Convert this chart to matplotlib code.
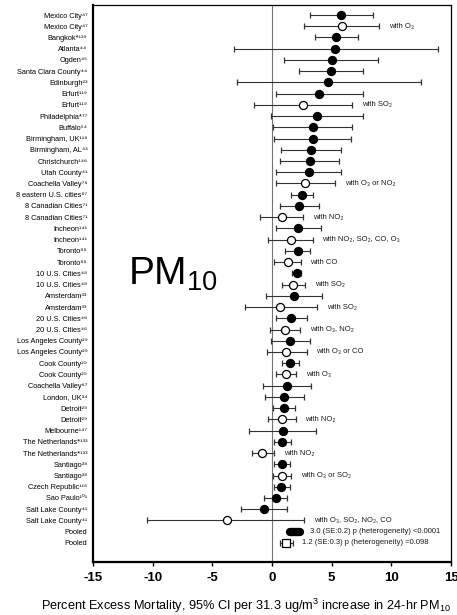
import matplotlib
matplotlib.use('Agg')
import matplotlib.pyplot as plt

matplotlib.rc('font', family=['Liberation Sans', 'DejaVu Sans'])
matplotlib.rc('mathtext', fontset='custom', rm='Liberation Sans',
              it='Liberation Sans:italic', bf='Liberation Sans:bold')

studies = [
    'Mexico City', 'Mexico City', 'Bangkok', 'Atlanta', 'Ogden',
    'Santa Clara County', 'Edinburgh', 'Erfurt', 'Erfurt', 'Philadelphia',
    'Buffalo', 'Birmingham, UK', 'Birmingham, AL', 'Christchurch', 'Utah County',
    'Coachella Valley', '8 eastern U.S. cities', '8 Canadian Cities',
    '8 Canadian Cities', 'Incheon', 'Incheon', 'Toronto', 'Toronto',
    '10 U.S. Cities', '10 U.S. Cities', 'Amsterdam', 'Amsterdam',
    '20 U.S. Cities', '20 U.S. Cities', 'Los Angeles County',
    'Los Angeles County', 'Cook County', 'Cook County', 'Coachella Valley',
    'London, UK', 'Detroit', 'Detroit', 'Melbourne', 'The Netherlands',
    'The Netherlands', 'Santiago', 'Santiago', 'Czech Republic', 'Sao Paulo',
    'Salt Lake County', 'Salt Lake County', 'Pooled', 'Pooled',
]
refs = ['47', '47', '*139', '44', '45', '44', '23', '119', '119', '*77',
        '54', '118', '43', '146', '41', '76', '87', '71', '71', '141', '141',
        '86', '86', '48', '48', '33', '33', '46', '46', '29', '29', '29', '29',
        '67', '34', '29', '29', '147', '*133', '*133', '38', '38', '116', '101',
        '41', '41', '', '']
estimates = [5.8, 5.9, 5.4, 5.3, 5.0, 4.9, 4.7, 3.9, 2.6, 3.8, 3.4, 3.4,
             3.3, 3.2, 3.1, 2.8, 2.5, 2.3, 0.8, 2.2, 1.55, 2.15, 1.3, 2.1,
             1.75, 1.85, 0.7, 1.6, 1.05, 1.5, 1.2, 1.5, 1.2, 1.25, 1.0, 1.0,
             0.85, 0.9, 0.85, -0.8, 0.8, 0.8, 0.75, 0.3, -0.7, -3.8, 1.95, 1.2]
lower = [3.2, 2.7, 3.6, -3.2, 1.0, 2.3, -2.9, 0.3, -1.5, -0.05, 0.05, 0.2,
         0.75, 0.7, 0.3, 0.35, 1.6, 0.7, -1.0, 0.35, -0.3, 1.1, 0.2, 1.7,
         0.8, -0.5, -2.3, 0.3, -0.15, -0.05, -0.45, 0.85, 0.3, -0.75, -0.6, 0.05,
         -0.3, -1.95, 0.15, -1.7, 0.15, 0.05, 0.15, -0.7, -2.6, -10.5, 1.5, 0.7]
upper = [8.5, 9.0, 7.2, 13.9, 8.9, 7.6, 12.5, 7.6, 6.7, 7.6, 6.7, 6.6,
         5.8, 5.6, 5.75, 5.3, 3.4, 3.9, 2.6, 4.1, 3.4, 3.2, 2.4, 2.45,
         2.8, 4.2, 3.8, 2.95, 2.35, 3.2, 2.9, 2.3, 2.05, 3.3, 2.7, 1.95,
         2.0, 3.7, 1.6, 0.2, 1.5, 1.6, 1.5, 1.25, 1.25, 2.7, 2.35, 1.75]
# open markers = estimates adjusted for co-pollutants
notes = {
    1: 'with O₃',
    8: 'with SO₂',
    15: 'with O₃ or NO₂',
    18: 'with NO₂',
    20: 'with NO₂, SO₂, CO, O₃',
    22: 'with CO',
    24: 'with SO₂',
    26: 'with SO₂',
    28: 'with O₃, NO₂',
    30: 'with O₃ or CO',
    32: 'with O₃',
    36: 'with NO₂',
    39: 'with NO₂',
    41: 'with O₃ or SO₂',
    45: 'with O₃, SO₂, NO₂, CO',
}
pooled_notes = {
    46: '3.0 (SE:0.2) p (heterogeneity) <0.0001',
    47: '1.2 (SE:0.3) p (heterogeneity) =0.098',
}
x_ticks = [-15, -10, -5, 0, 5, 10, 15]

SUP = str.maketrans('0123456789*', '⁰¹²³⁴⁵⁶⁷⁸⁹*')


def draw_forest(ax):
    n = len(studies)
    ax.axvline(0, color='0.45', lw=0.8, zorder=0)
    for i in range(n):
        est, lo, hi = estimates[i], lower[i], upper[i]
        is_open = i in notes or i == 47
        if i == 46:
            ax.plot([lo, hi], [i, i], color='black', lw=6,
                    solid_capstyle='round')
        else:
            ax.errorbar(est, i, xerr=[[est - lo], [hi - est]],
                        fmt='s' if i == 47 else 'o',
                        ms=5.2 if i == 47 else 5.8,
                        mfc='white' if is_open else 'black', mec='black',
                        mew=0.9, ecolor='0.2', elinewidth=0.8,
                        capsize=2.2, capthick=0.8)
        text = notes.get(i, pooled_notes.get(i))
        if text:
            ax.text(hi + 0.8, i, text, fontsize=5.5, va='center', color='0.1')

    labels = [s + r.translate(SUP) for s, r in zip(studies, refs)]
    ax.set_ylim(n - 1 + 1.7, -0.9)
    ax.set_yticks(range(n))
    ax.set_yticklabels(labels, fontsize=5.3)
    ax.tick_params(axis='y', length=0, pad=4)

    ax.set_xlim(-15, 15)
    ax.set_xticks(x_ticks)
    ax.set_xticklabels([str(t) for t in x_ticks], fontsize=9.5, fontweight='bold')
    ax.tick_params(axis='x', length=3, width=1, pad=4)
    ax.set_xlabel('Percent Excess Mortality, 95% CI per 31.3 ug/m$^3$ '
                  'increase in 24-hr PM$_{10}$', fontsize=9.2)
    ax.xaxis.set_label_coords(0.427, -0.062)

    for side in ['left', 'bottom']:
        ax.spines[side].set_linewidth(1.6)
    for side in ['top', 'right']:
        ax.spines[side].set_linewidth(0.9)

    ax.text(0.098, 0.497, 'PM$_{10}$', transform=ax.transAxes, fontsize=28,
            ha='left', va='baseline')


def create_graph():
    fig = plt.figure(figsize=(4.57, 6.15), dpi=100)
    ax = fig.add_axes([0.2035, 0.0862, 0.7835, 0.9058])
    draw_forest(ax)
    fig.savefig('out.png', dpi=100, facecolor='w')


if __name__ == '__main__':
    create_graph()
